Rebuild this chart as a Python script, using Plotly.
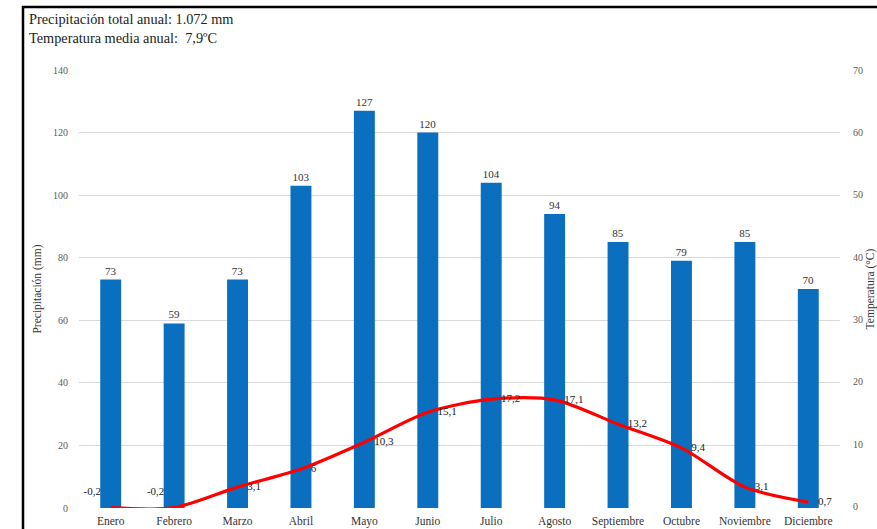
import plotly.graph_objects as go

months = ["Enero", "Febrero", "Marzo", "Abril", "Mayo", "Junio", "Julio",
          "Agosto", "Septiembre", "Octubre", "Noviembre", "Diciembre"]
precip_mm = [73, 59, 73, 103, 127, 120, 104, 94, 85, 79, 85, 70]
temp_c = [-0.2, -0.2, 3.1, 6, 10.3, 15.1, 17.2, 17.1, 13.2, 9.4, 3.1, 0.7]
temp_labels = ["-0,2", "-0,2", "3,1", "6", "10,3", "15,1", "17,2", "17,1",
               "13,2", "9,4", "3,1", "0,7"]
header_lines = ["Precipitación total anual: 1.072 mm",
                "Temperatura media anual:  7,9ºC"]

W, H = 877, 529
ML, MR, MT, MB = 79, 37, 70, 21
PW, PH = W - ML - MR, H - MT - MB

def px_x(x):
    return (x - ML) / PW

def px_y(y):
    return (H - MB - y) / PH

SERIF = "Liberation Serif"

fig = go.Figure()
fig.add_trace(go.Bar(
    x=months, y=precip_mm, name="Precipitación",
    marker=dict(color="#0B6FBF", line=dict(width=0)),
    text=[str(v) for v in precip_mm], textposition="outside",
    textfont=dict(family=SERIF, size=11, color="#333333"),
    cliponaxis=False, hoverinfo="skip",
))
positions = ["top left" if v < 0 else "middle right" for v in temp_c]
fig.add_trace(go.Scatter(
    x=months, y=temp_c, yaxis="y2", name="Temperatura",
    mode="lines+markers+text",
    line=dict(color="#FF0000", width=3.2, shape="spline", smoothing=0.8),
    marker=dict(size=14, opacity=0, color="#FF0000"),
    text=temp_labels, textposition=positions,
    textfont=dict(family=SERIF, size=11, color="#222222"),
    cliponaxis=False, hoverinfo="skip",
))

fig.update_layout(
    width=W, height=H,
    margin=dict(l=ML, r=MR, t=MT, b=MB, pad=0, autoexpand=False),
    paper_bgcolor="white", plot_bgcolor="white",
    showlegend=False, bargap=0.67,
    font=dict(family=SERIF, size=10, color="#595959"),
    xaxis=dict(range=[-0.5, 11.5], showgrid=False, showline=False, ticks="",
               zeroline=False, automargin=False, ticklabelstandoff=4,
               tickfont=dict(family=SERIF, size=11.5, color="#333333")),
    yaxis=dict(range=[0, 140], dtick=20, showgrid=True, gridcolor="#D9D9D9",
               gridwidth=1, zeroline=False, showline=False, ticklabelstandoff=10,
               automargin=False,
               tickfont=dict(family=SERIF, size=10, color="#595959"),
               title=dict(text="Precipitación (mm)", standoff=8,
                          font=dict(family=SERIF, size=11.5, color="#333333"))),
    yaxis2=dict(range=[-0.25, 70], tickvals=[0, 10, 20, 30, 40, 50, 60, 70],
                overlaying="y", side="right", automargin=False,
                showgrid=False, zeroline=False, showline=False, ticklabelstandoff=12,
                tickfont=dict(family=SERIF, size=10, color="#595959"),
                title=dict(text="Temperatura (°C)", standoff=7,
                           font=dict(family=SERIF, size=11.5, color="#333333"))),
)

for i, line in enumerate(header_lines):
    fig.add_annotation(
        text=line, xref="paper", yref="paper",
        x=px_x(27), y=px_y(19 + 19 * i), xanchor="left", yanchor="middle",
        showarrow=False, font=dict(family=SERIF, size=14.3, color="#222222"),
    )

# frame lines (left and top)
fig.add_shape(type="line", xref="paper", yref="paper",
              x0=px_x(23), x1=px_x(23), y0=px_y(H + 5), y1=px_y(6),
              line=dict(color="black", width=2.5))
fig.add_shape(type="line", xref="paper", yref="paper",
              x0=px_x(22), x1=px_x(W + 5), y0=px_y(7), y1=px_y(7),
              line=dict(color="black", width=2.5))

fig.write_html("out.html", config={"displayModeBar": False},
               post_script="document.body.style.margin='0px';document.body.style.overflow='hidden';")
